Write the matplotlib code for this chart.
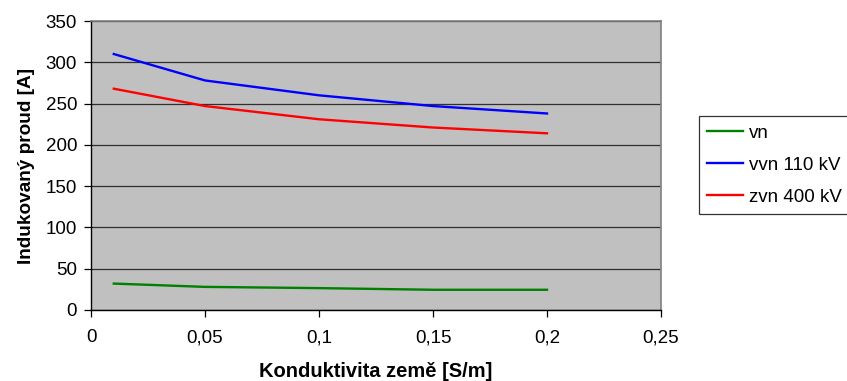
import numpy as np
import matplotlib.pyplot as plt
from matplotlib.ticker import FuncFormatter

plt.rcParams['font.family'] = ['Liberation Sans', 'DejaVu Sans']

# conductivity of the ground [S/m]
konduktivita = [0.01, 0.05, 0.1, 0.15, 0.2]

# induced current [A] for each voltage level
proud_vn = [32, 28, 26.5, 24.5, 24.5]
proud_vvn = [310, 278, 260, 247, 238]
proud_zvn = [268, 247, 231, 221, 214]

fig = plt.figure(figsize=(8.47, 3.81), dpi=100)
ax = fig.add_axes([91/847, 1-310/381, (661-91)/847, (310-21)/381])
ax.set_facecolor('#C0C0C0')

ax.plot(konduktivita, proud_vn, color='#008000', lw=1.7, label='vn')
ax.plot(konduktivita, proud_vvn, color='#0000FF', lw=1.7, label='vvn 110 kV')
ax.plot(konduktivita, proud_zvn, color='#FF0000', lw=1.7, label='zvn 400 kV')

ax.set_xlim(0, 0.25)
ax.set_ylim(0, 350)
ax.set_xticks(np.arange(0, 0.26, 0.05))
ax.set_yticks(np.arange(0, 351, 50))
ax.xaxis.set_major_formatter(FuncFormatter(lambda v, p: ('%g' % round(v, 2)).replace('.', ',')))
ax.yaxis.grid(True, color='#303030', lw=0.9)
ax.set_axisbelow(True)
ax.tick_params(direction='out', length=5, width=0.9, labelsize=13.5, color='black')
ax.tick_params(axis='x', pad=9)
ax.tick_params(axis='y', pad=5)

for s in ['top', 'right']:
    ax.spines[s].set_color('#808080')
    ax.spines[s].set_linewidth(1.2)
for s in ['left', 'bottom']:
    ax.spines[s].set_color('black')
    ax.spines[s].set_linewidth(1.0)

ax.set_xlabel('Konduktivita země [S/m]', fontsize=14.5, fontweight='bold', labelpad=11)
ax.set_ylabel('Indukovaný proud [A]', fontsize=13.7, fontweight='bold', labelpad=8)

leg = ax.legend(loc='upper left', bbox_to_anchor=(699/847, 1-116/381),
                bbox_transform=fig.transFigure, frameon=True, fancybox=False,
                edgecolor='black', fontsize=13.5, handlelength=1.9,
                handletextpad=0.3, borderpad=0.45, labelspacing=0.8,
                borderaxespad=0)
leg.get_frame().set_linewidth(0.9)

fig.savefig('out.png', dpi=100)
